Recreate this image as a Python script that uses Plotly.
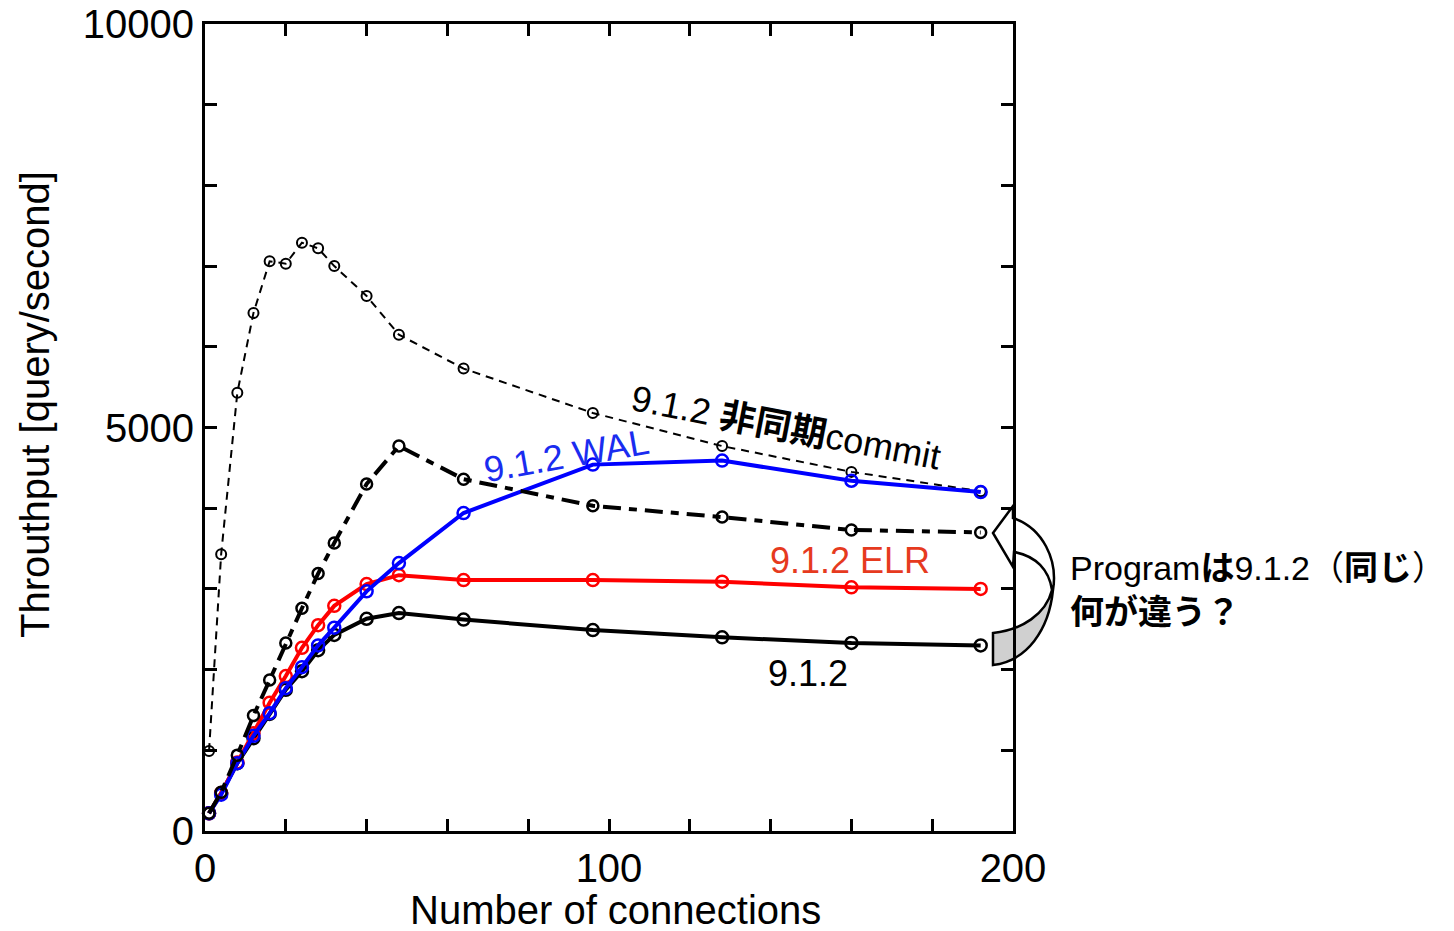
import plotly.graph_objects as go

# ---------------- data ----------------
connections = [1, 4, 8, 12, 16, 20, 24, 28, 32, 40, 48, 64, 96, 128, 160, 192]

async_commit = [990, 3430, 5430, 6420, 7060, 7030, 7290, 7220, 7000, 6630, 6150, 5730, 5180, 4770, 4450, 4210]
v912_other   = [220, 480, 940, 1430, 1870, 2330, 2760, 3190, 3570, 4300, 4770, 4360, 4030, 3890, 3730, 3700]
v912_elr     = [220, 470, 850, 1210, 1590, 1920, 2270, 2550, 2790, 3060, 3170, 3110, 3110, 3090, 3020, 3000]
v912_wal     = [220, 450, 840, 1180, 1460, 1770, 2030, 2300, 2520, 2970, 3320, 3940, 4540, 4590, 4340, 4200]
v912         = [220, 470, 840, 1150, 1450, 1750, 1980, 2240, 2430, 2630, 2700, 2620, 2490, 2400, 2330, 2300]

x_ticks = list(range(0, 201, 20))
x_tick_text = ["0" if v == 0 else ("100" if v == 100 else ("200" if v == 200 else "")) for v in x_ticks]
y_ticks = list(range(0, 10001, 1000))
y_tick_text = [str(v) if v in (0, 5000, 10000) else "" for v in y_ticks]

# ---------------- layout geometry ----------------
W, H = 1454, 931
L, R, T, B = 205, 1013, 24, 831
FONT = "Liberation Sans, Arial, Noto Sans CJK JP, sans-serif"


def px(x):
    return (x - L) / (R - L)


def py(y):
    return (B - y) / (B - T)


def path(points_cmds):
    out = []
    for c in points_cmds:
        if isinstance(c, str):
            out.append(c)
        else:
            out.append(f"{px(c[0]):.5f},{py(c[1]):.5f}")
    return " ".join(out)


fig = go.Figure()

fig.add_trace(go.Scatter(
    x=connections, y=async_commit, mode="lines+markers",
    line=dict(color="black", width=2, dash="8px,6px"),
    marker=dict(symbol="circle-open", size=10, color="black", line=dict(width=2)),
    cliponaxis=False, showlegend=False))

fig.add_trace(go.Scatter(
    x=connections, y=v912, mode="lines+markers",
    line=dict(color="black", width=4),
    marker=dict(symbol="circle-open", size=12, color="black", line=dict(width=2.5)),
    cliponaxis=False, showlegend=False))

fig.add_trace(go.Scatter(
    x=connections, y=v912_elr, mode="lines+markers",
    line=dict(color="#ff0000", width=4),
    marker=dict(symbol="circle-open", size=12, color="#ff0000", line=dict(width=2.5)),
    cliponaxis=False, showlegend=False))

fig.add_trace(go.Scatter(
    x=connections, y=v912_wal, mode="lines+markers",
    line=dict(color="#0000ff", width=4),
    marker=dict(symbol="circle-open", size=12, color="#0000ff", line=dict(width=2.5)),
    cliponaxis=False, showlegend=False))

fig.add_trace(go.Scatter(
    x=connections, y=v912_other, mode="lines+markers",
    line=dict(color="black", width=4, dash="18px,8px,8px,8px"),
    marker=dict(symbol="circle-open", size=11, color="black", line=dict(width=2.5)),
    cliponaxis=False, showlegend=False))

annotations = [
    dict(x=px(35), y=py(405), text="Throuthput [query/second]", textangle=-90,
         font=dict(size=40, color="black", family=FONT)),
    dict(x=px(615), y=py(910), text="Number of connections",
         font=dict(size=40, color="black", family=FONT)),
    dict(x=px(786), y=py(427), text="9.1.2 <b>非同期</b>commit", textangle=11,
         font=dict(size=36, color="black", family=FONT)),
    dict(x=px(566), y=py(455), text="9.1.2 WAL", textangle=-10,
         font=dict(size=36, color="#1a2cf0", family=FONT)),
    dict(x=px(850), y=py(560), text="9.1.2 ELR",
         font=dict(size=36, color="#e63a1e", family=FONT)),
    dict(x=px(808), y=py(673), text="9.1.2",
         font=dict(size=36, color="black", family=FONT)),
    dict(x=px(1068), y=py(568), text="Program<b>は</b>9.1.2（<b>同じ</b>）", xanchor="left",
         font=dict(size=34, color="black", family=FONT)),
    dict(x=px(1068), y=py(612), text="<b>何が違う？</b>", xanchor="left",
         font=dict(size=34, color="black", family=FONT)),
]
for a in annotations:
    a.update(xref="paper", yref="paper", showarrow=False)
    a.setdefault("xanchor", "center")
    a.setdefault("yanchor", "middle")

# curved arrow (decoration)
gray_part = path(["M", (1053, 590), "C", (1049, 630), (1027, 661), (993, 665),
                  "L", (993, 633), "C", (1022, 630), (1046, 614), (1052, 590), "Z"])
outline = path(["M", (993, 533), "L", (1013, 506), "L", (1013, 518),
                "C", (1043, 528), (1058, 560), (1053, 590),
                "C", (1049, 630), (1027, 661), (993, 665),
                "L", (993, 633),
                "C", (1022, 630), (1046, 614), (1052, 590),
                "C", (1049, 570), (1036, 556), (1014, 552),
                "L", (1013, 567), "Z"])

shapes = [
    dict(type="path", path=gray_part, xref="paper", yref="paper",
         fillcolor="#d0d0d0", line=dict(width=0), layer="below"),
    dict(type="path", path=outline, xref="paper", yref="paper",
         fillcolor="rgba(0,0,0,0)", line=dict(color="black", width=2.5), layer="above"),
]

axis_common = dict(
    showline=True, linecolor="black", linewidth=3, mirror="ticks",
    ticks="inside", ticklen=12, tickwidth=2.5, tickcolor="black",
    showgrid=False, zeroline=False, automargin=False,
    tickfont=dict(size=40, color="black", family=FONT),
)

fig.update_layout(
    width=W, height=H,
    margin=dict(l=L, r=W - R, t=T, b=H - B, pad=0, autoexpand=False),
    paper_bgcolor="white", plot_bgcolor="white",
    font=dict(family=FONT, color="black"),
    xaxis=dict(range=[0, 200], tickmode="array", tickvals=x_ticks, ticktext=x_tick_text, **axis_common),
    yaxis=dict(range=[0, 10000], tickmode="array", tickvals=y_ticks, ticktext=y_tick_text, **axis_common),
    annotations=annotations,
    shapes=shapes,
)

fig.write_html("out.html", config={"displayModeBar": False},
               post_script="document.body.style.margin='0';document.body.style.padding='0';")
